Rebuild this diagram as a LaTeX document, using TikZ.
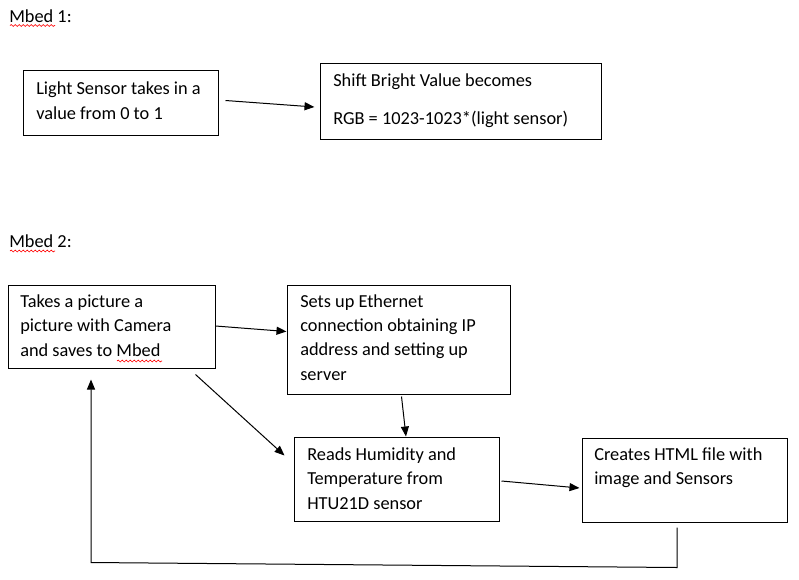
\documentclass[tikz,border=0pt]{standalone}
\usepackage{fontspec}
\setmainfont{Carlito}
\usetikzlibrary{arrows.meta,fit,decorations.pathmorphing}
\begin{document}
\begin{tikzpicture}[x=0.75pt,y=-0.75pt,
  box/.style={draw,line width=0.75pt,inner sep=0pt},
  txt/.style={anchor=base west,inner sep=0pt,font=\fontsize{13.75}{16}\selectfont},
  arr/.style={line width=0.75pt,-{Triangle[length=7.5pt,width=6pt]}},
  squig/.style={red,line width=0.5pt,decorate,decoration={snake,amplitude=0.7pt,segment length=3pt}}]
\useasboundingbox (0,0) rectangle (799,579);

% headings
\node[txt] (h1) at (9,22) {Mbed 1:};
\node[txt] (h2) at (9,247) {Mbed 2:};
\draw[squig] (10,25.5) -- (55,25.5);
\draw[squig] (10,251) -- (55,251);

% Mbed 1 boxes
\node[box,fit={(23,70)(218,135)}] (b1) {};
\node[txt] (t1a) at (36,94) {Light Sensor takes in a};
\node[txt] (t1b) at (36,119) {value from 0 to 1};

\node[box,fit={(320,63)(601,139)}] (b2) {};
\node[txt] (t2a) at (333,86) {Shift Bright Value becomes};
\node[txt] (t2b) at (333,124) {RGB = 1023-1023*(light sensor)};

\draw[arr] ([shift={(7,-2)}]b1.east) -- ([shift={(-5,6)}]b2.west);

% Mbed 2 boxes
\node[box,fit={(8,285)(215,368)}] (b3) {};
\node[txt] (t3a) at (20,307) {Takes a picture a};
\node[txt] (t3b) at (20,331) {picture with Camera};
\node[txt] (t3c) at (20,356) {and saves to Mbed};
\draw[squig] (117,361) -- (162,361);

\node[box,fit={(287,285)(510,394)}] (b4) {};
\node[txt] (t4a) at (300,307) {Sets up Ethernet};
\node[txt] (t4b) at (300,331) {connection obtaining IP};
\node[txt] (t4c) at (300,355) {address and setting up};
\node[txt] (t4d) at (300,380) {server};

\node[box,fit={(294,437)(499,521)}] (b5) {};
\node[txt] (t5a) at (307,460) {Reads Humidity and};
\node[txt] (t5b) at (307,484) {Temperature from};
\node[txt] (t5c) at (307,509) {HTU21D sensor};

\node[box,fit={(582,438)(787,522)}] (b6) {};
\node[txt] (t6a) at (594,460) {Creates HTML file with};
\node[txt] (t6b) at (594,484) {image and Sensors};

% connectors
\draw[arr] ([shift={(0,-0.5)}]b3.east) -- ([shift={(0,-8)}]b4.west);
\draw[arr] ([shift={(3,2)}]b4.south) -- ([shift={(9.5,0)}]b5.north);
\draw[arr] ([shift={(-20,6)}]b3.south east) -- ([shift={(-9,19)}]b5.north west);
\draw[arr] ([shift={(2,2)}]b5.east) -- ([shift={(-2,8)}]b6.west);
\draw[arr] ([shift={(-7.5,5)}]b6.south) -- ++(0,40) -- ([shift={(-20.5,194)}]b3.south) -- ([shift={(-20.5,11)}]b3.south);
\end{tikzpicture}
\end{document}
